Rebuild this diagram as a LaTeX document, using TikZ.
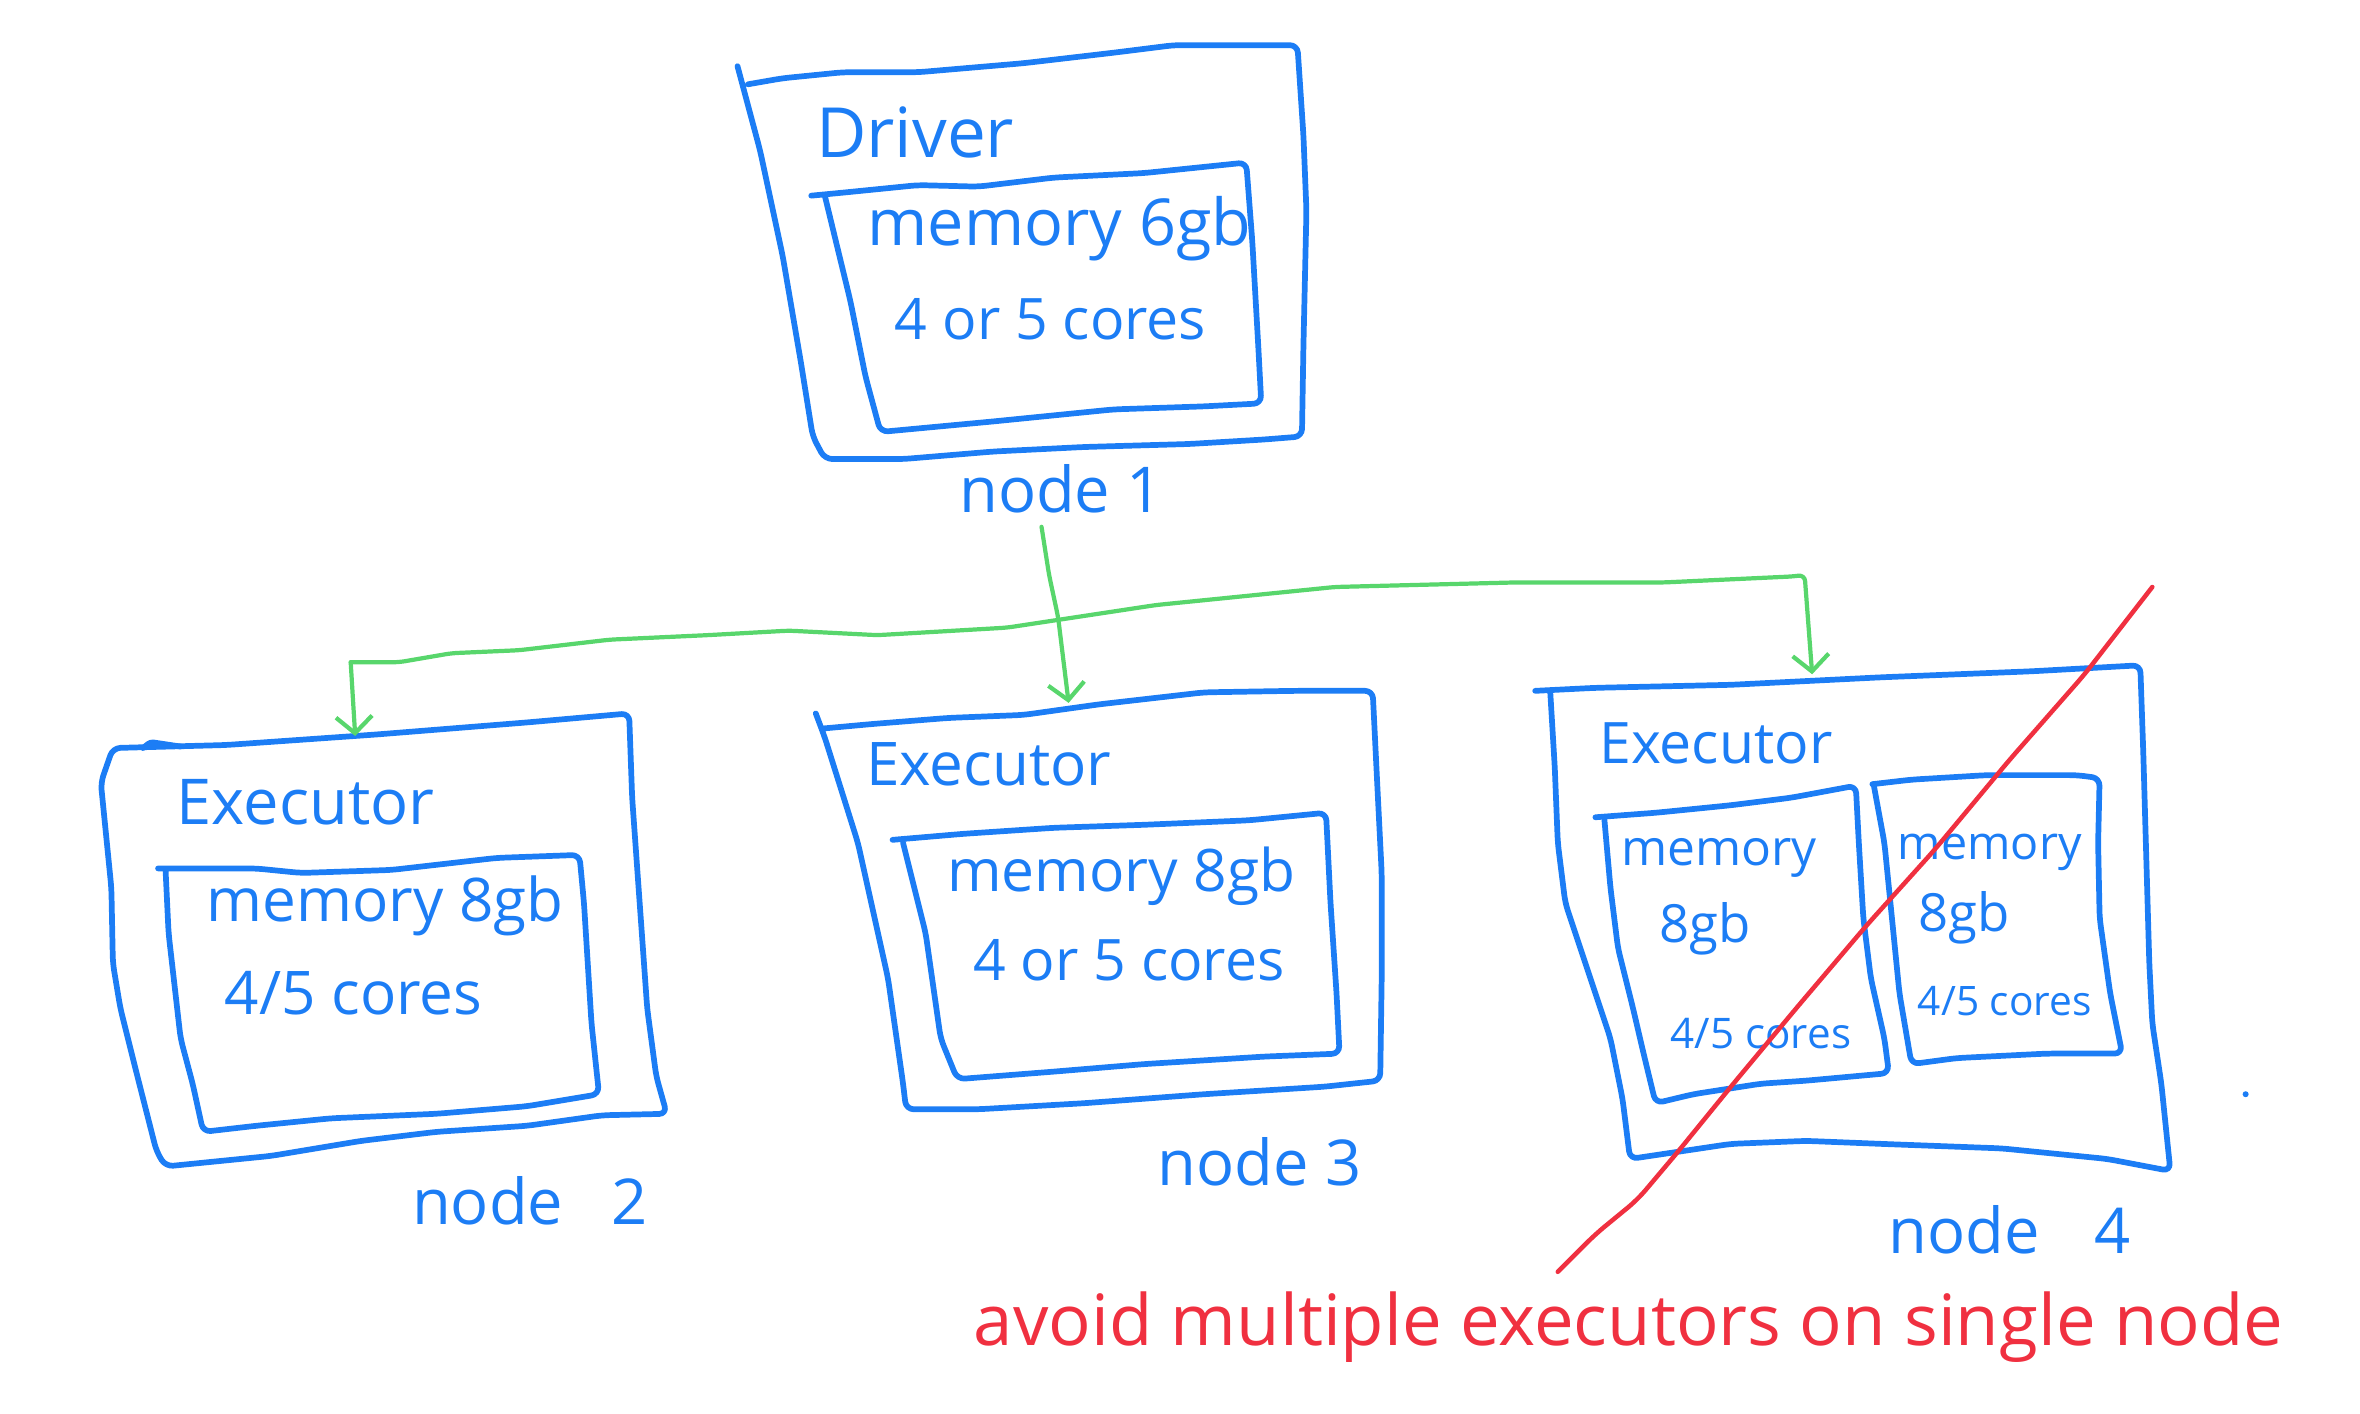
\documentclass[tikz,border=0pt]{standalone}
\usepackage{fontspec}
\setmainfont{Open Sans}
\usetikzlibrary{arrows.meta}
\definecolor{penblue}{RGB}{28,125,245}
\definecolor{pengreen}{RGB}{88,214,108}
\definecolor{penred}{RGB}{240,48,64}
\tikzset{
  box/.style={draw=penblue, line width=3.8pt, line cap=round, line join=round, rounded corners=5pt},
  lbl/.style={text=penblue, inner sep=0pt, anchor=center},
  conn/.style={draw=pengreen, line width=2.8pt, line cap=round, line join=round, rounded corners=4pt,
    -{Straight Barb[length=11pt,width=24pt]}},
  cross/.style={draw=penred, line width=3pt, line cap=round, line join=round, rounded corners=8pt},
}
\newcommand{\fs}[1]{\fontsize{#1}{#1}\selectfont}
\begin{document}
\begin{tikzpicture}[x=1pt,y=-1pt]
\useasboundingbox (0,0) rectangle (1568,939);

% ---------- node 1 : Driver ----------
\draw[box] (490,44) -- (505,100) -- (520,170) -- (532,240) -- (540,290) -- (548,305)
  -- (600,305) -- (660,300) -- (720,297) -- (790,295) -- (840,292) -- (865,290)
  -- (866,230) -- (868,140) -- (866,90) -- (864,60) -- (862,30)
  -- (830,30) -- (780,30) -- (740,35) -- (680,42) -- (610,48) -- (560,48) -- (520,52) -- (497,56);
\draw[box] (539,130) -- (560,128) -- (610,123) -- (650,124) -- (700,118) -- (760,115) -- (828,108)
  -- (832,160) -- (836,230) -- (838,268)
  -- (800,270) -- (740,272) -- (660,280) -- (585,287)
  -- (575,250) -- (565,200) -- (548,130);
\node[lbl, font=\fs{46}] (driverlbl) at (608,88) {Driver};
\node[lbl, font=\fs{43}] (mem1) at (704,152) {memory 6gb};
\node[lbl, font=\fs{38}] (cores1) at (698,212) {4 or 5 cores};
\node[lbl, font=\fs{42}] (node1lbl) at (705,325) {node 1};

% ---------- node 2 ----------
\draw[box] (75,497) -- (150,495) -- (250,488) -- (350,480) -- (418,474)
  -- (420,530) -- (425,600) -- (430,670) -- (436,715) -- (443,740)
  -- (400,741) -- (350,748) -- (290,752) -- (240,758) -- (180,768) -- (110,775)
  -- (104,765) -- (90,710) -- (80,670) -- (75,640) -- (74,590) -- (70,550) -- (67,520) -- cycle;
\draw[box, rounded corners=2pt] (95,497) -- (100,493) -- (120,496);
\draw[box] (105,577) -- (170,577) -- (200,580) -- (260,578) -- (330,570) -- (385,568)
  -- (388,600) -- (393,680) -- (398,727)
  -- (350,735) -- (290,740) -- (220,743) -- (170,748) -- (135,752)
  -- (128,720) -- (120,690) -- (116,655) -- (112,620) -- (110,578);
\node[lbl, font=\fs{42}] (exec2) at (203,533) {Executor};
\node[lbl, font=\fs{40}] (mem2) at (256,602) {memory 8gb};
\node[lbl, font=\fs{40}] (cores2) at (235,660) {4/5 cores};
\node[lbl, font=\fs{42}] (node2lbl) at (352,798) {node\hspace{0.5em} 2};

% ---------- node 3 ----------
\draw[box] (542,474) -- (548,490) -- (570,560) -- (590,650) -- (600,720) -- (602,737)
  -- (650,737) -- (720,733) -- (800,727) -- (880,722) -- (917,718)
  -- (918,650) -- (918,580) -- (915,520) -- (912,459)
  -- (860,459) -- (800,460) -- (730,468) -- (680,475) -- (630,477) -- (580,481) -- (547,484);
\draw[box] (593,558) -- (640,554) -- (700,550) -- (760,548) -- (830,545) -- (881,540)
  -- (884,600) -- (888,660) -- (890,700)
  -- (840,702) -- (760,707) -- (700,712) -- (636,717)
  -- (625,690) -- (620,655) -- (615,620) -- (600,560);
\node[lbl, font=\fs{40}] (exec3) at (657,508) {Executor};
\node[lbl, font=\fs{39}] (mem3) at (745,582) {memory 8gb};
\node[lbl, font=\fs{38}] (cores3) at (750,638) {4 or 5 cores};
\node[lbl, font=\fs{42}] (node3lbl) at (837,772) {node 3};

% ---------- node 4 ----------
\draw[box] (1020,459) -- (1060,457) -- (1150,455) -- (1250,450) -- (1350,446) -- (1422,442)
  -- (1424,500) -- (1426,570) -- (1428,640) -- (1430,680) -- (1436,720) -- (1442,778)
  -- (1400,770) -- (1330,763) -- (1250,760) -- (1200,758) -- (1150,760) -- (1083,770)
  -- (1078,730) -- (1070,690) -- (1055,645) -- (1040,600) -- (1035,560) -- (1033,510) -- (1030,460);
\draw[box] (1060,543) -- (1100,540) -- (1150,535) -- (1190,530) -- (1233,522)
  -- (1235,560) -- (1238,610) -- (1243,650) -- (1252,690) -- (1255,713)
  -- (1200,718) -- (1170,720) -- (1125,727) -- (1100,733)
  -- (1092,700) -- (1085,670) -- (1075,630) -- (1070,590) -- (1066,545);
\draw[box] (1244,521) -- (1270,518) -- (1320,515) -- (1380,515) -- (1395,517)
  -- (1394,560) -- (1395,610) -- (1402,660) -- (1410,700)
  -- (1360,700) -- (1300,703) -- (1270,707)
  -- (1262,660) -- (1258,620) -- (1252,560) -- (1245,522);
\node[lbl, font=\fs{38}] (exec4) at (1140,494) {Executor};
\node[lbl, font=\fs{33}] (mem4a) at (1142,570) {memory};
\node[lbl, font=\fs{35}] (gb4a) at (1133,617) {8gb};
\node[lbl, font=\fs{28}] (cores4a) at (1170,687) {4/5 cores};
\node[lbl, font=\fs{31}] (mem4b) at (1322,566) {memory};
\node[lbl, font=\fs{35}] (gb4b) at (1305,610) {8gb};
\node[lbl, font=\fs{27}] (cores4b) at (1332,665) {4/5 cores};
\node[lbl, font=\fs{42}] (node4lbl) at (1335,817) {node\hspace{0.6em} 4};

% ---------- green connectors ----------
\coordinate (n1out) at (692,350);
\coordinate (ex3top) at (710,467);
\coordinate (ex2top) at (236,489);
\coordinate (ex4top) at (1204,448);
\coordinate (busL) at (233,440);
\coordinate (busR) at (1199,382);
\draw[conn] (n1out) -- (697,382) -- (703,410) -- (ex3top);
\draw[conn] (busL) -- (ex2top);
\draw[conn] (busL) -- (265,440) -- (300,434) -- (345,432) -- (405,425) -- (470,422) -- (524,419)
  -- (583,422) -- (669,417) -- (768,402) -- (887,390) -- (1006,387) -- (1105,387)
  -- (1191,383) -- (busR) -- (ex4top);

% ---------- red cross-out ----------
\draw[cross] (1035,845) -- (1060,820) -- (1088,797) -- (1115,765) -- (1150,722) -- (1195,668)
  -- (1240,615) -- (1285,565) -- (1335,505) -- (1385,448) -- (1430,390);
\node[text=penred, inner sep=0pt, font=\fs{47}] (warn) at (1082,882) {avoid multiple executors on single node};

% stray dot
\fill[penblue] (1492,727) circle (2pt);
\end{tikzpicture}
\end{document}
